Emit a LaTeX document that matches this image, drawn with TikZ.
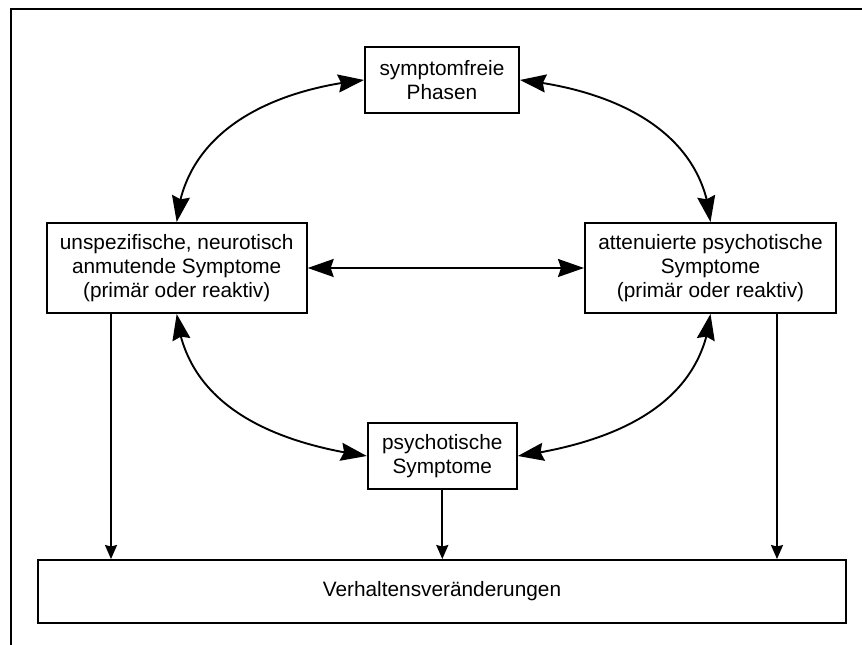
\documentclass[tikz,border=0pt]{standalone}
\usepackage{fontspec}
\setmainfont{Liberation Sans}
\usetikzlibrary{arrows.meta,bending}

\begin{document}
\begin{tikzpicture}[x=1pt,y=1pt,
  box/.style={draw,line width=2pt,inner sep=0pt,align=center,
    font=\fontsize{20.8}{24}\selectfont},
  link/.style={line width=1.9pt,
    {Stealth[length=26pt,width=18pt,inset=3pt]}-{Stealth[length=26pt,width=18pt,inset=3pt]}},
  feed/.style={line width=1.9pt,-{Stealth[length=14pt,width=12pt,inset=1.5pt]}}]

  \useasboundingbox (0,0) rectangle (862,645);

  % frame, open to the right and below
  \draw[line width=2.6pt] (862,636) -- (11,636) -- (11,0);

  % states
  \node[box,minimum width=154pt,minimum height=66pt] (sf) at (442,565)
    {symptomfreie\\Phasen};
  \node[box,minimum width=260pt,minimum height=90pt] (L) at (176.7,377)
    {unspezifische, neurotisch\\anmutende Symptome\\(primär oder reaktiv)};
  \node[box,minimum width=251pt,minimum height=90pt] (R) at (710.5,377)
    {attenuierte psychotische\\Symptome\\(primär oder reaktiv)};
  \node[box,minimum width=149pt,minimum height=66pt] (ps) at (442.3,189)
    {psychotische\\Symptome};
  \node[box,minimum width=808pt,minimum height=62.7pt] (V) at (442,53.6)
    {Verhaltensveränderungen};

  % transitions between states
  \draw[link] (sf.west) to[out=186,in=85] (L.north);
  \draw[link] (sf.east) to[out=-6,in=95] (R.north);
  \draw[link] (L.south) to[out=-84,in=172] (ps.west);
  \draw[link] (R.south) to[out=-96,in=8] (ps.east);
  \draw[link] (L.east) -- (R.west);

  % consequences
  \coordinate (lf) at ([xshift=65.3pt]L.south west);
  \coordinate (rf) at ([xshift=-60pt]R.south east);
  \draw[feed] (lf) -- (lf |- V.north);
  \draw[feed] (ps.south) -- (ps.south |- V.north);
  \draw[feed] (rf) -- (rf |- V.north);
\end{tikzpicture}
\end{document}
